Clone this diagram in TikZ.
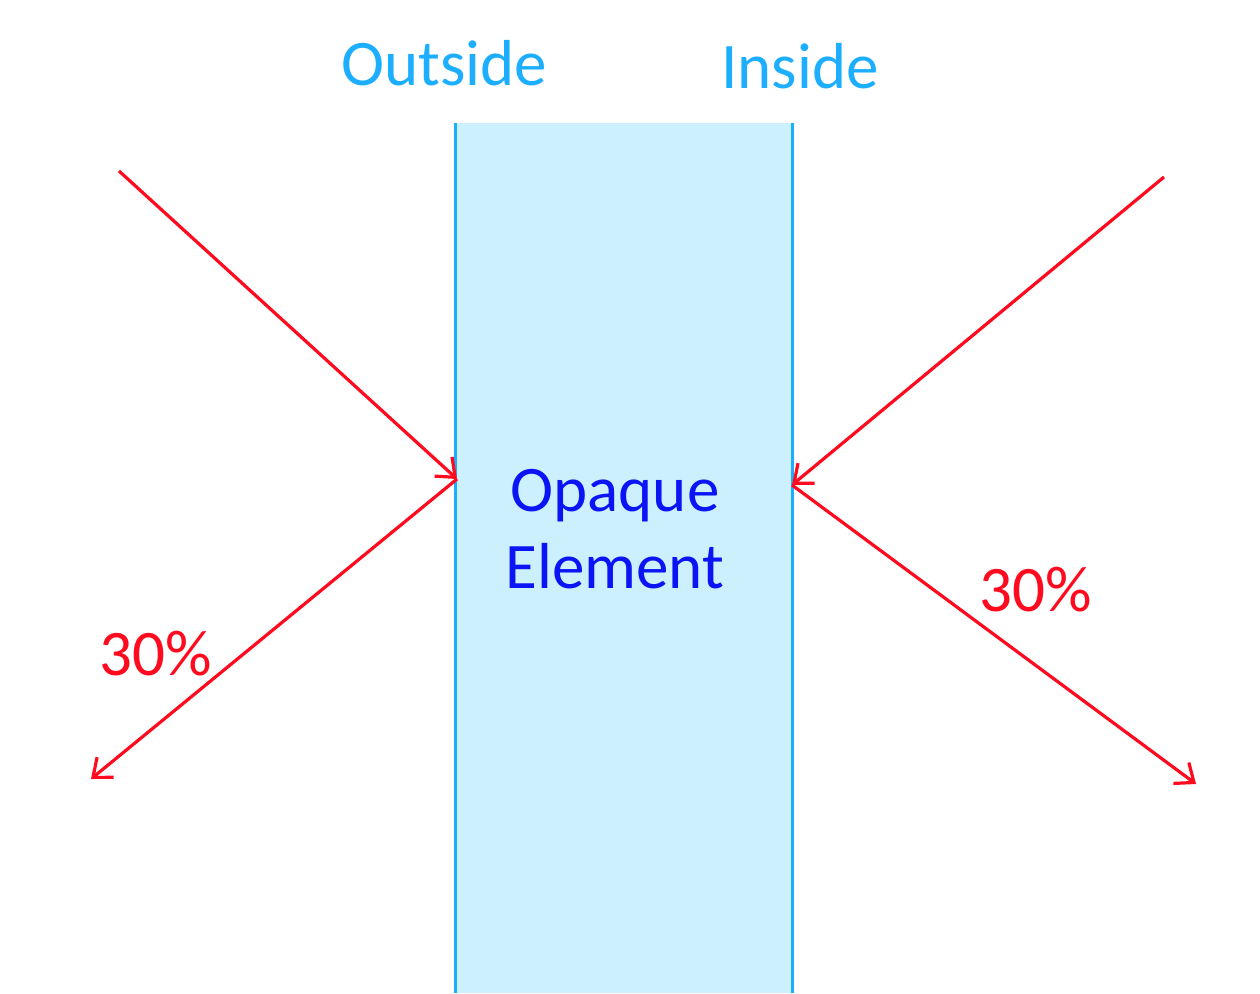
\documentclass[tikz,border=0pt]{standalone}
\usepackage{fontspec}
\setmainfont{Carlito}
\usetikzlibrary{arrows.meta}
\definecolor{wallfill}{HTML}{CCF0FE}
\definecolor{wallline}{HTML}{1EAEFF}
\definecolor{rayred}{HTML}{FF0A1E}
\definecolor{textblue}{HTML}{0A14F5}
\tikzset{
  ray/.style={draw=rayred, line width=3.2pt, -{Straight Barb[length=16pt,width=26pt,line width=3.2pt]}},
  wallside/.style={draw=wallline, line width=3pt},
  lbl/.style={font=\fontsize{65}{70}\selectfont, anchor=base, inner sep=0pt},
}
\begin{document}
\begin{tikzpicture}[x=1pt,y=-1pt]
\useasboundingbox (0,0) rectangle (1260,993);
\fill[wallfill] (455,123) rectangle (792,993);
\draw[wallside] (455,123) -- (455,993);
\draw[wallside] (792,123) -- (792,993);
\coordinate (s1) at (119,171);
\coordinate (h1) at (457,479);
\coordinate (e1) at (91,779);
\coordinate (s2) at (1164,177);
\coordinate (h2) at (792,485);
\coordinate (e2) at (1196,784);
\draw[ray] (s1) -- (h1);
\draw[ray] (h1) -- (e1);
\draw[ray] (s2) -- (h2);
\draw[ray] (h2) -- (e2);
\node[lbl, text=wallline] (outside) at (444,85) {Outside};
\node[lbl, text=wallline] (inside) at (800,88) {Inside};
\node[lbl, text=textblue] (opaque) at (615,511) {Opaque};
\node[lbl, text=textblue] (element) at (615,588) {Element};
\node[lbl, text=rayred] (pl) at (156,675) {30\%};
\node[lbl, text=rayred] (pr) at (1036,611) {30\%};
\end{tikzpicture}
\end{document}
